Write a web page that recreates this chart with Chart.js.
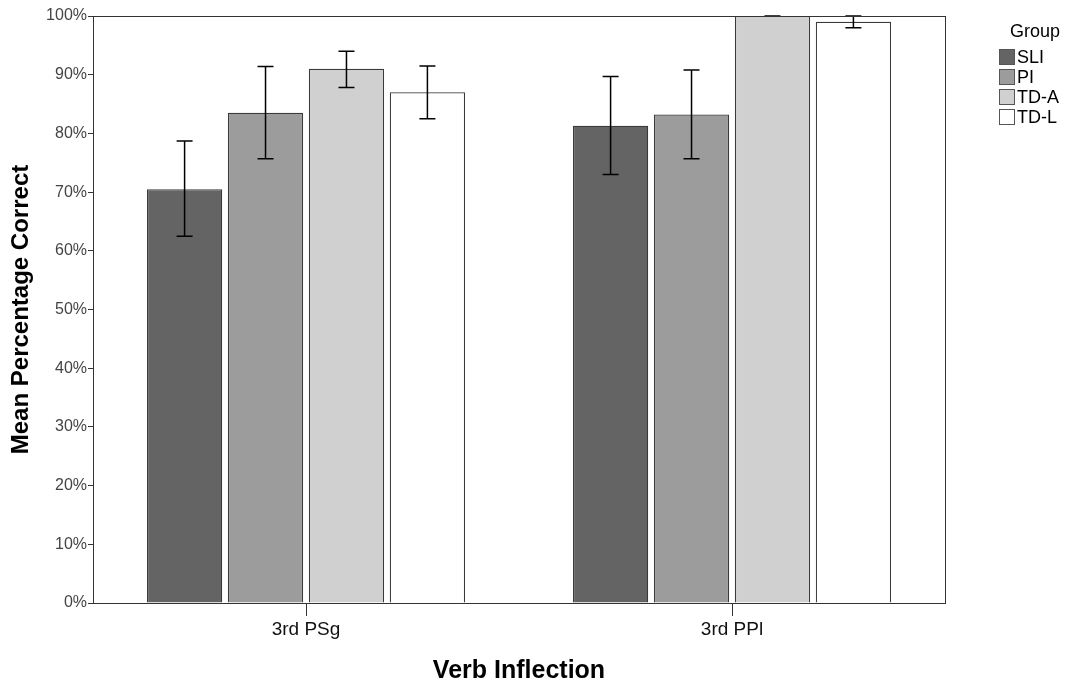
<!DOCTYPE html>
<html>
<head>
<meta charset="utf-8">
<script src="https://cdn.jsdelivr.net/npm/chart.js@4/dist/chart.umd.min.js"></script>
<style>
  html, body { margin: 0; padding: 0; background: #fff; }
  #wrap { position: relative; width: 1082px; height: 686px; }
  #legend { position: absolute; left: 999px; top: 19px; font-family: "Liberation Sans", Arial, sans-serif; font-size: 18px; color: #000; }
  #legend .title { margin-left: 11px; height: 24px; line-height: 24px; margin-bottom: 4px; }
  #legend .item { display: flex; align-items: center; height: 20px; line-height: 20px; }
  #legend .box { width: 16px; height: 16px; border: 1px solid #555; margin-right: 2px; box-sizing: border-box; }
</style>
</head>
<body>
<div id="wrap">
  <canvas id="c" width="1082" height="686"></canvas>
  <div id="legend"><div class="title">Group</div></div>
</div>
<script>
const categories = ['3rd PSg', '3rd PPl'];
const groups = ['SLI', 'PI', 'TD-A', 'TD-L'];
const groupColors = ['#646464', '#9c9c9c', '#d0d0d0', '#ffffff'];
// mean percentage correct per group, in category order
const meanSLI = [70.5, 81.3];
const meanPI = [83.5, 83.2];
const meanTDA = [91.0, 100.0];
const meanTDL = [87.0, 99.0];
// error bar ends [low, high]
const errSLI = [[62.5, 78.7], [73.0, 89.7]];
const errPI = [[75.7, 91.4], [75.7, 90.8]];
const errTDA = [[87.8, 94.0], [100.0, 100.0]];
const errTDL = [[82.5, 91.5], [98.0, 100.0]];
const yTicks = [0, 10, 20, 30, 40, 50, 60, 70, 80, 90, 100];

const means = [meanSLI, meanPI, meanTDA, meanTDL];
const errs = [errSLI, errPI, errTDA, errTDL];

const legendEl = document.getElementById('legend');
groups.forEach((g, i) => {
  const row = document.createElement('div');
  row.className = 'item';
  row.innerHTML = '<span class="box" style="background:' + groupColors[i] + '"></span><span>' + g + '</span>';
  legendEl.appendChild(row);
});

const font = "'Liberation Sans', Arial, sans-serif";

const errorBars = {
  id: 'errorBars',
  afterDatasetsDraw(chart) {
    const ctx = chart.ctx;
    const y = chart.scales.y;
    ctx.save();
    ctx.strokeStyle = '#000';
    ctx.lineWidth = 1.5;
    chart.data.datasets.forEach((ds, di) => {
      const meta = chart.getDatasetMeta(di);
      meta.data.forEach((bar, i) => {
        const e = ds.errors[i];
        const x = bar.x;
        const yl = y.getPixelForValue(e[0]);
        const yh = y.getPixelForValue(e[1]);
        ctx.beginPath();
        ctx.moveTo(x, yl); ctx.lineTo(x, yh);
        ctx.moveTo(x - 8, yl); ctx.lineTo(x + 8, yl);
        ctx.moveTo(x - 8, yh); ctx.lineTo(x + 8, yh);
        ctx.stroke();
      });
    });
    ctx.restore();
  }
};

const frame = {
  id: 'frame',
  afterDraw(chart) {
    const a = chart.chartArea;
    const ctx = chart.ctx;
    ctx.save();
    ctx.strokeStyle = '#333';
    ctx.lineWidth = 1;
    ctx.strokeRect(Math.round(a.left) + 0.5, Math.round(a.top) + 0.5, Math.round(a.right - a.left), Math.round(a.bottom - a.top));
    ctx.restore();
  }
};

new Chart(document.getElementById('c'), {
  type: 'bar',
  data: {
    labels: categories,
    datasets: groups.map((g, i) => ({
      label: g,
      data: means[i],
      errors: errs[i],
      backgroundColor: groupColors[i],
      borderColor: '#3a3a3a',
      borderWidth: 1.2,
      categoryPercentage: 0.76,
      barPercentage: 0.93
    }))
  },
  options: {
    responsive: false,
    animation: false,
    layout: { padding: { top: 16, right: 137, left: 0, bottom: 0 } },
    plugins: { legend: { display: false }, tooltip: { enabled: false } },
    scales: {
      x: {
        grid: { display: true, drawOnChartArea: false, drawTicks: true, tickLength: 13, color: '#333', offset: false },
        border: { display: true, color: '#333' },
        ticks: { color: '#111', font: { family: font, size: 19 }, padding: 2 },
        title: { display: true, text: 'Verb Inflection', color: '#000', font: { family: font, size: 25, weight: 'bold' }, padding: { top: 0, bottom: 0 } },
        afterFit(s) { s.height = 83; }
      },
      y: {
        min: 0, max: 100,
        afterBuildTicks(s) { s.ticks = yTicks.map(v => ({ value: v })); },
        grid: { display: true, drawOnChartArea: false, drawTicks: true, tickLength: 5, color: '#333' },
        border: { display: true, color: '#333' },
        ticks: { color: '#444', font: { family: font, size: 16 }, padding: 1, callback: v => v + '%' },
        title: { display: true, text: 'Mean Percentage Correct', color: '#000', font: { family: font, size: 24, weight: 'bold' }, padding: { top: 7, bottom: 0 } },
        afterFit(s) { s.width = 93; }
      }
    }
  },
  plugins: [errorBars, frame]
});
</script>
</body>
</html>
